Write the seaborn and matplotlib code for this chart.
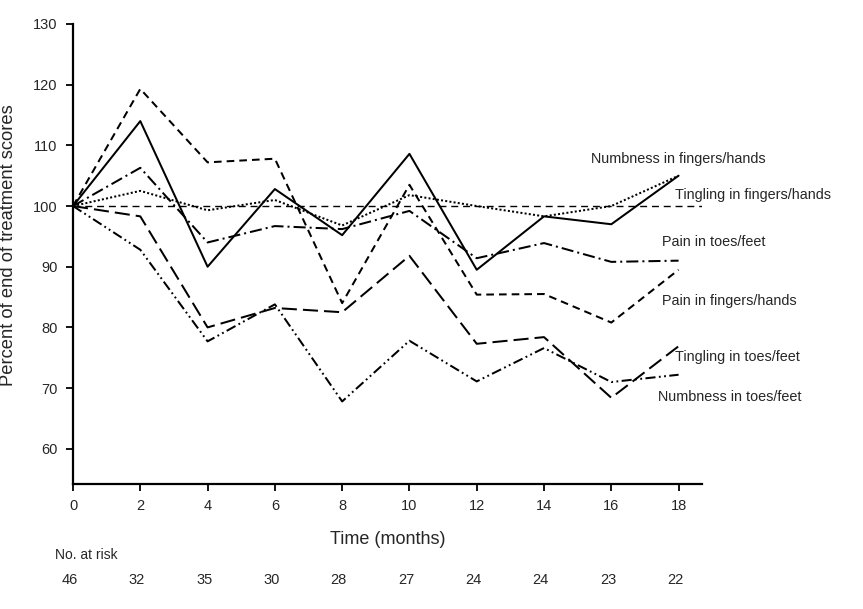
import numpy as np
import pandas as pd
import matplotlib
matplotlib.use('Agg')
import matplotlib.pyplot as plt
import seaborn as sns

# values (percent of end-of-treatment score)
months = [0, 2, 4, 6, 8, 10, 12, 14, 16, 18]
numb_fingers = [100, 114.0, 90.0, 102.8, 95.2, 108.6, 89.5, 98.3, 97.0, 105.0]
tingle_fingers = [100, 102.5, 99.3, 101.0, 96.8, 101.8, 100.0, 98.3, 100.0, 105.0]
pain_toes = [100, 106.3, 94.0, 96.7, 96.2, 99.2, 91.4, 93.9, 90.8, 91.0]
pain_fingers = [100, 119.3, 107.2, 107.8, 84.0, 103.5, 85.4, 85.5, 80.8, 89.5]
tingle_toes = [100, 98.3, 80.0, 83.2, 82.5, 91.8, 77.3, 78.4, 68.4, 76.9]
numb_toes = [100, 92.8, 77.7, 83.8, 67.8, 77.8, 71.1, 76.6, 71.0, 72.2]
at_risk = [46, 32, 35, 30, 28, 27, 24, 24, 23, 22]
yticks = [60, 70, 80, 90, 100, 110, 120, 130]

series = {
    'Numbness in fingers/hands': numb_fingers,
    'Tingling in fingers/hands': tingle_fingers,
    'Pain in toes/feet': pain_toes,
    'Pain in fingers/hands': pain_fingers,
    'Tingling in toes/feet': tingle_toes,
    'Numbness in toes/feet': numb_toes,
}
rows = []
for name, vals in series.items():
    for m, v in zip(months, vals):
        rows.append({'month': m, 'score': v, 'symptom': name})
df = pd.DataFrame(rows)

# dash patterns (in linewidth units)
dashes = {
    'Numbness in fingers/hands': '',
    'Tingling in fingers/hands': (1, 1.1),
    'Pain in toes/feet': (6, 2, 1, 2),
    'Pain in fingers/hands': (3.8, 2.5),
    'Tingling in toes/feet': (7.5, 3),
    'Numbness in toes/feet': (5, 1.7, 0.9, 1.7, 0.9, 1.7),
}

sns.set_style('ticks')
plt.rcParams['font.family'] = ['Liberation Sans', 'DejaVu Sans']

fig = plt.figure(figsize=(8.63, 6.09), dpi=100)
ax = fig.add_axes([0.0846, 0.2053, 0.729, 0.7553])

# reference line at 100
ax.plot([0, 18.7], [100, 100], color='black', lw=1.0, dashes=(5, 3.5))

sns.lineplot(data=df, x='month', y='score', style='symptom', dashes=dashes,
             color='black', linewidth=1.45, legend=False, ax=ax)

ax.set_xlim(0, 18.7)
ax.set_ylim(54.2, 130)
ax.set_xticks(months)
ax.set_yticks(yticks)
ax.set_xticklabels([str(m) for m in months], fontsize=10.5)
ax.set_yticklabels([str(t) for t in yticks], fontsize=10.5)
ax.tick_params(direction='out', length=5, width=1.3, color='black', pad=6)
for s in ['top', 'right']:
    ax.spines[s].set_visible(False)
for s in ['left', 'bottom']:
    ax.spines[s].set_linewidth(1.6)
    ax.spines[s].set_color('black')

ax.set_xlabel('Time (months)', fontsize=13, labelpad=13)
ax.set_ylabel('Percent of end of treatment scores', fontsize=13.2)
ax.yaxis.set_label_coords(-0.089, 0.52)

# line labels
labels = [
    ('Numbness in fingers/hands', 15.4, 107.8),
    ('Tingling in fingers/hands', 17.9, 101.9),
    ('Pain in toes/feet', 17.5, 94.0),
    ('Pain in fingers/hands', 17.5, 84.4),
    ('Tingling in toes/feet', 17.9, 75.2),
    ('Numbness in toes/feet', 17.4, 68.5),
]
for txt, x, y in labels:
    ax.text(x, y, txt, fontsize=10.4, va='center', ha='left', clip_on=False)

# number at risk
trans = ax.get_xaxis_transform()
ax.text(-0.55, -0.154, 'No. at risk', transform=trans, fontsize=10,
        ha='left', va='center')
for m, n in zip(months, at_risk):
    ax.text(m - 0.1, -0.209, str(n), transform=trans, fontsize=10.5,
            ha='center', va='center')

fig.savefig('out.png', dpi=100)
